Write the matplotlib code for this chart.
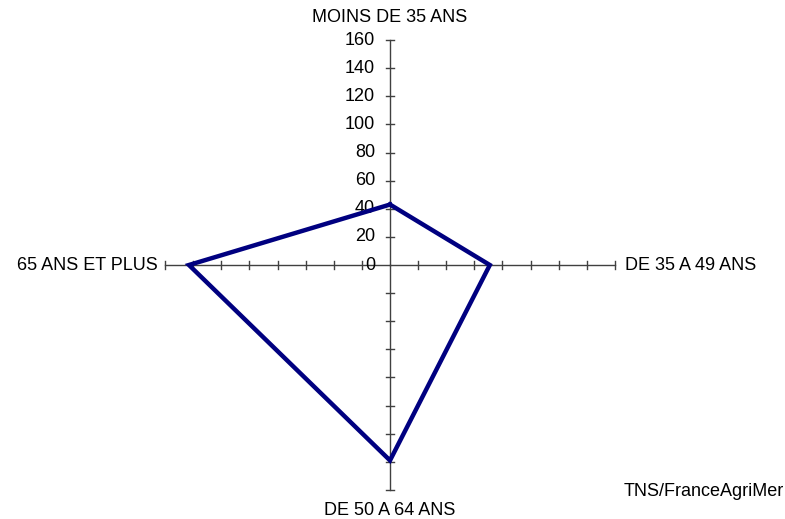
import numpy as np
import matplotlib
matplotlib.use('Agg')
import matplotlib.pyplot as plt

plt.rcParams['font.family'] = ['Liberation Sans', 'DejaVu Sans']

# categories clockwise from top
categories = ['MOINS DE 35 ANS', 'DE 35 A 49 ANS', 'DE 50 A 64 ANS', '65 ANS ET PLUS']
values = [43, 71, 139, 143]
ticks = [0, 20, 40, 60, 80, 100, 120, 140, 160]
rmax = 160
source = 'TNS/FranceAgriMer'

fig = plt.figure(figsize=(7.85, 5.19), dpi=100)
ax = fig.add_axes([0, 0, 1, 1])
scale = 1.406  # px per unit
ax.set_xlim(-390 / scale, (785 - 390) / scale)
ax.set_ylim(-(519 - 265) / scale, 265 / scale)
ax.axis('off')

# angles: top, right, bottom, left
angles = np.pi / 2 - np.arange(len(categories)) * np.pi / 2
dirs = np.column_stack([np.cos(angles), np.sin(angles)])

# spokes with ticks
tl = 3.2
for d in dirs:
    ax.plot([0, d[0] * rmax], [0, d[1] * rmax], color='#404040', lw=1, zorder=1)
    perp = np.array([-d[1], d[0]])
    for t in ticks[1:]:
        p = d * t
        ax.plot([p[0] - perp[0] * tl, p[0] + perp[0] * tl],
                [p[1] - perp[1] * tl, p[1] + perp[1] * tl], color='#404040', lw=1, zorder=1)

fs = 13
# tick labels on top spoke
for t in ticks:
    ax.text(-10.5, t, str(t), ha='right', va='center', fontsize=fs, color='black')

# data polygon
xs = dirs[:, 0] * np.array(values)
ys = dirs[:, 1] * np.array(values)
ax.plot(np.append(xs, xs[0]), np.append(ys, ys[0]), color='#000080', lw=3.2,
        solid_joinstyle='miter', zorder=3)

# category labels
ax.text(0, rmax + 16, categories[0], ha='center', va='center', fontsize=fs)
ax.text(rmax + 7, 0, categories[1], ha='left', va='center', fontsize=fs)
ax.text(0, -rmax - 14.5, categories[2], ha='center', va='center', fontsize=fs)
ax.text(-rmax - 5, 0, categories[3], ha='right', va='center', fontsize=fs)

fig.text(0.998, 1 - 492 / 519, source, ha='right', va='center', fontsize=fs)

fig.savefig('out.png', dpi=100, facecolor='white')
